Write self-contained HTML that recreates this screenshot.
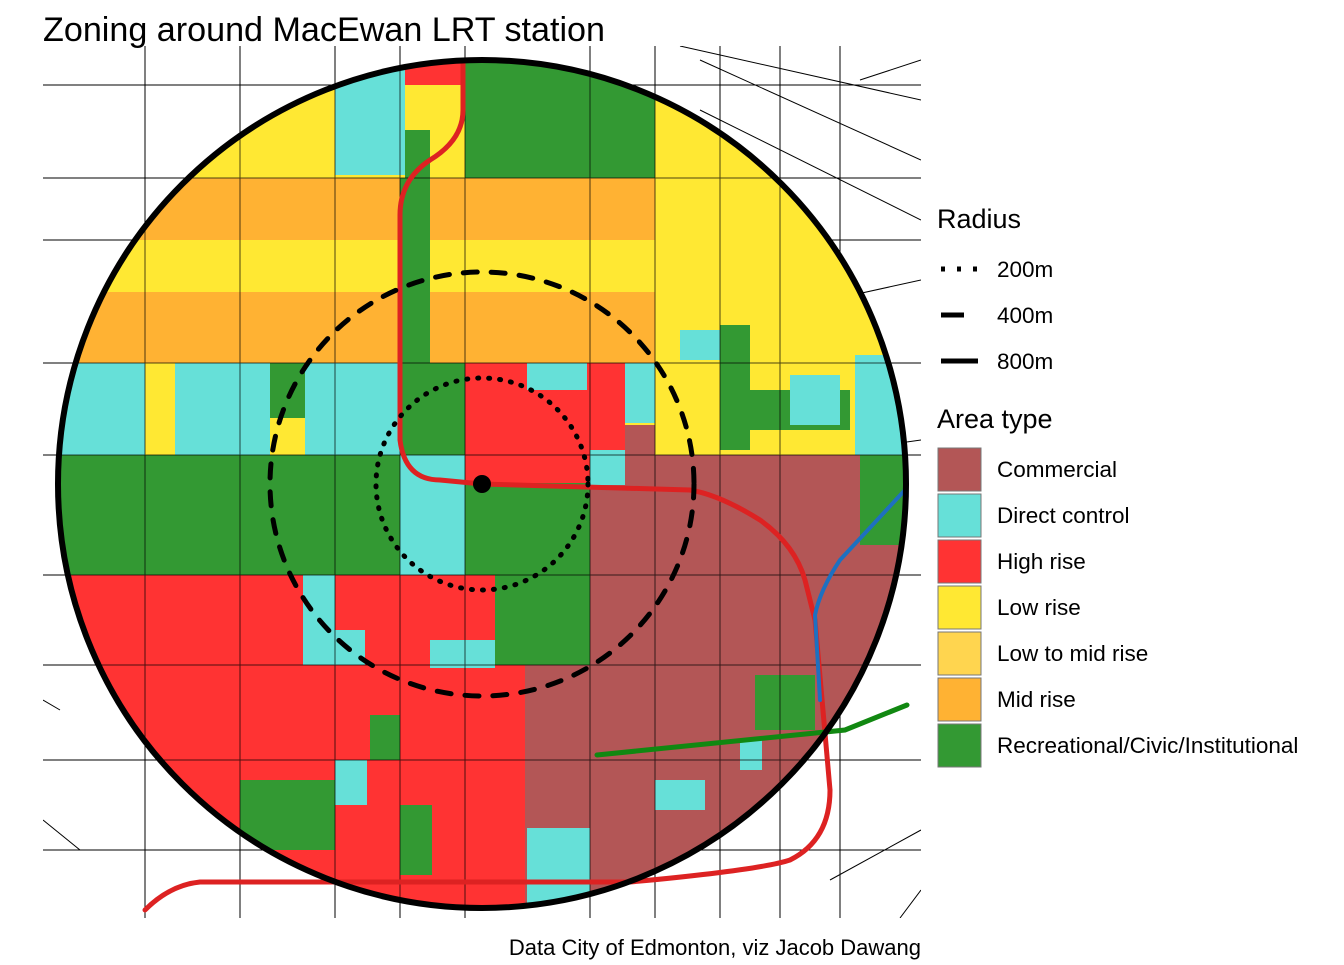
<!DOCTYPE html>
<html><head><meta charset="utf-8"><style>
body{margin:0;background:#fff;font-family:"Liberation Sans",sans-serif}
</style></head><body>
<svg width="1344" height="960" viewBox="0 0 1344 960" xmlns="http://www.w3.org/2000/svg" font-family="Liberation Sans, sans-serif">
<defs><clipPath id="c"><circle cx="482" cy="484" r="424"/></clipPath>
<clipPath id="m"><rect x="43" y="46" width="878" height="872"/></clipPath></defs>
<g clip-path="url(#m)" stroke="#000" stroke-width="1" fill="none">
<path d="M43 85H921M43 178H921M43 240H921M43 363H921M43 455H921M43 575H921M43 665H921M43 760H921M43 850H921M145 46V918M240 46V918M335 46V918M400 46V918M465 46V918M590 46V918M655 46V918M720 46V918M780 46V918M840 46V918M700 60L921 160M700 110L921 220M680 46L921 100M860 80L921 60M830 300L921 280M850 450L921 440M830 880L921 830M43 700L60 710M43 820L80 850M900 918L921 890"/>
</g>
<g clip-path="url(#c)">
<rect x="57" y="60" width="850" height="850" fill="#FFE833"/>
<rect x="335" y="60" width="70" height="115" fill="#66E0D8"/>
<rect x="405" y="60" width="60" height="25" fill="#FF3333"/>
<rect x="465" y="60" width="190" height="118" fill="#339933"/>
<rect x="405" y="130" width="25" height="50" fill="#339933"/>
<rect x="57" y="178" width="343" height="62" fill="#FFB233"/>
<rect x="430" y="178" width="225" height="62" fill="#FFB233"/>
<rect x="57" y="292" width="598" height="71" fill="#FFB233"/>
<rect x="400" y="178" width="30" height="185" fill="#339933"/>
<rect x="57" y="363" width="88" height="92" fill="#66E0D8"/>
<rect x="175" y="363" width="95" height="92" fill="#66E0D8"/>
<rect x="270" y="363" width="35" height="55" fill="#339933"/>
<rect x="305" y="363" width="95" height="92" fill="#66E0D8"/>
<rect x="400" y="363" width="65" height="92" fill="#339933"/>
<rect x="465" y="363" width="125" height="120" fill="#FF3333"/>
<rect x="527" y="363" width="60" height="27" fill="#66E0D8"/>
<rect x="590" y="363" width="35" height="92" fill="#FF3333"/>
<rect x="625" y="363" width="30" height="60" fill="#66E0D8"/>
<rect x="720" y="325" width="30" height="125" fill="#339933"/>
<rect x="680" y="330" width="40" height="30" fill="#66E0D8"/>
<rect x="750" y="390" width="100" height="40" fill="#339933"/>
<rect x="790" y="375" width="50" height="50" fill="#66E0D8"/>
<rect x="855" y="355" width="55" height="100" fill="#66E0D8"/>
<rect x="57" y="455" width="343" height="120" fill="#339933"/>
<rect x="400" y="455" width="65" height="120" fill="#66E0D8"/>
<rect x="465" y="483" width="190" height="92" fill="#339933"/>
<rect x="590" y="450" width="65" height="35" fill="#66E0D8"/>
<path d="M625 425H655V455H910V910H590V485H625Z" fill="#B35656"/>
<rect x="590" y="575" width="320" height="340" fill="#B35656"/>
<rect x="860" y="455" width="50" height="90" fill="#339933"/>
<rect x="57" y="575" width="468" height="340" fill="#FF3333"/>
<rect x="525" y="665" width="65" height="250" fill="#B35656"/>
<rect x="495" y="575" width="95" height="90" fill="#339933"/>
<rect x="303" y="575" width="32" height="90" fill="#66E0D8"/>
<rect x="335" y="630" width="30" height="35" fill="#66E0D8"/>
<rect x="430" y="640" width="65" height="28" fill="#66E0D8"/>
<rect x="370" y="715" width="30" height="45" fill="#339933"/>
<rect x="335" y="760" width="32" height="45" fill="#66E0D8"/>
<rect x="240" y="780" width="95" height="70" fill="#339933"/>
<rect x="400" y="805" width="32" height="70" fill="#339933"/>
<rect x="527" y="828" width="63" height="80" fill="#66E0D8"/>
<rect x="755" y="675" width="60" height="55" fill="#339933"/>
<rect x="655" y="780" width="50" height="30" fill="#66E0D8"/>
<rect x="740" y="740" width="22" height="30" fill="#66E0D8"/>
<g stroke="#000" stroke-width="1" fill="none" opacity="0.7"><path d="M43 178H921M43 363H921M43 455H921M43 575H921M43 665H921M43 760H921M145 46V918M240 46V918M335 46V918M400 46V918M465 46V918M590 46V918M655 46V918M720 46V918M780 46V918"/></g>
</g>
<g fill="none" stroke-linecap="round">
<path d="M463 62V110Q463 140 430 160Q400 180 400 215V440Q405 480 440 480L482 484L690 490Q720 495 760 520Q795 545 805 580L815 620L830 790Q830 840 790 860Q760 870 630 882L200 882Q170 885 145 910" stroke="#DD2222" stroke-width="5"/>
<path d="M905 490L840 560Q820 590 815 615L820 700" stroke="#1E70C0" stroke-width="4"/>
<path d="M597 755L845 730L907 705" stroke="#118811" stroke-width="5"/>
<circle cx="482" cy="484" r="106" stroke="#000" stroke-width="5" stroke-dasharray="1 10"/>
<circle cx="482" cy="484" r="212" stroke="#000" stroke-width="5" stroke-dasharray="14 14"/>
<circle cx="482" cy="484" r="424" stroke="#000" stroke-width="6"/>
</g>
<circle cx="482" cy="484" r="9" fill="#000"/>
<text x="43" y="41" font-size="34" textLength="562" lengthAdjust="spacingAndGlyphs">Zoning around MacEwan LRT station</text>
<text x="921" y="955" font-size="22" text-anchor="end">Data City of Edmonton, viz Jacob Dawang</text>
<text x="937" y="228" font-size="27">Radius</text>
<g stroke="#000" stroke-width="5" fill="none">
<path d="M941 269H978" stroke-dasharray="4 12"/>
<path d="M941 315H964"/>
<path d="M941 361H978"/>
</g>
<g font-size="22.5"><text x="997" y="277">200m</text><text x="997" y="323">400m</text><text x="997" y="369">800m</text></g>
<text x="937" y="428" font-size="27">Area type</text>
<g stroke="#777" stroke-width="1">
<rect x="938" y="448" width="43" height="43" fill="#B35656"/>
<rect x="938" y="494" width="43" height="43" fill="#66E0D8"/>
<rect x="938" y="540" width="43" height="43" fill="#FF3333"/>
<rect x="938" y="586" width="43" height="43" fill="#FFE833"/>
<rect x="938" y="632" width="43" height="43" fill="#FFD54F"/>
<rect x="938" y="678" width="43" height="43" fill="#FFB233"/>
<rect x="938" y="724" width="43" height="43" fill="#339933"/>
</g>
<g font-size="22.5">
<text x="997" y="477">Commercial</text>
<text x="997" y="523">Direct control</text>
<text x="997" y="569">High rise</text>
<text x="997" y="615">Low rise</text>
<text x="997" y="661">Low to mid rise</text>
<text x="997" y="707">Mid rise</text>
<text x="997" y="753">Recreational/Civic/Institutional</text>
</g>
</svg>
</body></html>
